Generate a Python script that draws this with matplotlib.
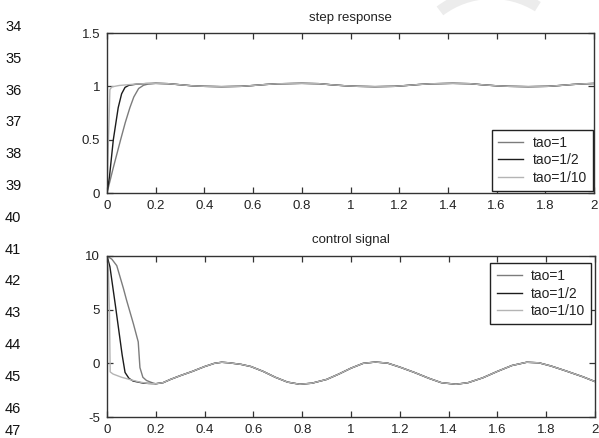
import numpy as np
import matplotlib
matplotlib.use("Agg")
import matplotlib.pyplot as plt
from matplotlib.patches import Wedge

plt.rcParams['font.family'] = ['Liberation Sans', 'DejaVu Sans']

# ---- data -------------------------------------------------------------
labels = ['tao=1', 'tao=1/2', 'tao=1/10']
colors = ['#7c7c7c', '#1c1c1c', '#b4b4b4']

# step response: start-up part of each run
step_t_tao1 = [0, 0.025, 0.056, 0.075, 0.094, 0.11, 0.13, 0.15, 0.17]
step_y_tao1 = [0, 0.23, 0.50, 0.66, 0.80, 0.90, 0.98, 1.01, 1.022]
step_t_tao2 = [0, 0.01, 0.026, 0.046, 0.06, 0.074, 0.09, 0.12, 0.16]
step_y_tao2 = [0, 0.15, 0.50, 0.80, 0.93, 0.99, 1.01, 1.02, 1.026]
step_t_tao10 = [0, 0.006, 0.012, 0.02, 0.05, 0.10, 0.15]
step_y_tao10 = [0, 0.50, 0.97, 0.995, 1.008, 1.018, 1.025]

# step response: common part once the runs coincide
step_t_tail = [0.20, 0.25, 0.30, 0.35, 0.40, 0.47, 0.55, 0.60, 0.65, 0.70,
               0.80, 0.87, 0.92, 0.98, 1.03, 1.10, 1.18, 1.23, 1.28, 1.33,
               1.42, 1.49, 1.54, 1.60, 1.65, 1.73, 1.81, 1.86, 1.91, 1.96, 2.00]
step_y_tail = [1.028, 1.025, 1.015, 1.005, 1.000, 0.997, 1.000, 1.008, 1.017, 1.024,
               1.028, 1.025, 1.015, 1.005, 1.000, 0.997, 1.000, 1.008, 1.017, 1.024,
               1.028, 1.025, 1.015, 1.005, 1.000, 0.997, 1.000, 1.008, 1.017, 1.024, 1.027]

# control signal: start-up part of each run
ctrl_t_tao1 = [0, 0.02, 0.04, 0.067, 0.08, 0.108, 0.128, 0.135, 0.147, 0.162, 0.19]
ctrl_y_tao1 = [10, 9.7, 9.1, 7.0, 5.9, 3.7, 2.0, -0.4, -1.3, -1.6, -1.85]
ctrl_t_tao2 = [0, 0.012, 0.035, 0.062, 0.074, 0.09, 0.107, 0.15]
ctrl_y_tao2 = [10, 9.0, 5.3, 0.8, -0.85, -1.4, -1.65, -1.85]
ctrl_t_tao10 = [0, 0.006, 0.010, 0.013, 0.025, 0.06, 0.10, 0.135, 0.17]
ctrl_y_tao10 = [10, 8.5, 5.0, -0.8, -1.0, -1.3, -1.55, -1.75, -1.88]

# control signal: common part once the runs coincide
ctrl_t_tail = [0.20, 0.23, 0.26, 0.30, 0.35, 0.40, 0.44, 0.47, 0.50, 0.55,
               0.59, 0.64, 0.69, 0.74, 0.79, 0.84, 0.90, 0.95, 1.00, 1.05,
               1.10, 1.15, 1.20, 1.26, 1.32, 1.37, 1.43, 1.48, 1.54, 1.60,
               1.66, 1.72, 1.77, 1.82, 1.88, 1.95, 2.00]
ctrl_y_tail = [-1.90, -1.80, -1.50, -1.15, -0.75, -0.30, 0.00, 0.10, 0.05, -0.10,
               -0.30, -0.75, -1.30, -1.75, -1.95, -1.85, -1.50, -1.00, -0.45, 0.00,
               0.12, 0.02, -0.35, -0.85, -1.40, -1.80, -1.95, -1.80, -1.35, -0.75,
               -0.20, 0.10, 0.05, -0.25, -0.70, -1.25, -1.70]

x_ticks = [0, 0.2, 0.4, 0.6, 0.8, 1, 1.2, 1.4, 1.6, 1.8, 2]
x_ticklabels = ['0', '0.2', '0.4', '0.6', '0.8', '1', '1.2', '1.4', '1.6', '1.8', '2']
step_yticks = [0, 0.5, 1, 1.5]
step_yticklabels = ['0', '0.5', '1', '1.5']
ctrl_yticks = [-5, 0, 5, 10]
ctrl_yticklabels = ['-5', '0', '5', '10']
line_numbers = list(range(34, 48))

# ---- figure -----------------------------------------------------------
W, H, DPI = 599, 438, 100
fig = plt.figure(figsize=(W / DPI, H / DPI), dpi=DPI)
fig.patch.set_facecolor('white')


def px_axes(left, top, right, bottom):
    return fig.add_axes([left / W, 1 - bottom / H, (right - left) / W, (bottom - top) / H])


ax1 = px_axes(107, 33, 594, 193)
ax2 = px_axes(107, 256, 595, 417)

step_runs = [(step_t_tao1, step_y_tao1), (step_t_tao2, step_y_tao2), (step_t_tao10, step_y_tao10)]
ctrl_runs = [(ctrl_t_tao1, ctrl_y_tao1), (ctrl_t_tao2, ctrl_y_tao2), (ctrl_t_tao10, ctrl_y_tao10)]

for (t, y), c, lab in zip(step_runs, colors, labels):
    ax1.plot(list(t) + step_t_tail, list(y) + step_y_tail, color=c, lw=1.0, label=lab)
for (t, y), c, lab in zip(ctrl_runs, colors, labels):
    ax2.plot(list(t) + ctrl_t_tail, list(y) + ctrl_y_tail, color=c, lw=1.0, label=lab)

spine_col = '#333333'
for ax, yt, ytl, ylim, title in [
        (ax1, step_yticks, step_yticklabels, (0, 1.5), 'step response'),
        (ax2, ctrl_yticks, ctrl_yticklabels, (-5, 10), 'control signal')]:
    ax.set_xlim(0, 2)
    ax.set_ylim(*ylim)
    ax.set_xticks(x_ticks)
    ax.set_xticklabels(x_ticklabels)
    ax.set_yticks(yt)
    ax.set_yticklabels(ytl)
    ax.tick_params(direction='in', length=4, width=0.9, color=spine_col,
                   top=True, right=True, labelsize=9.5, labelcolor='#222222', pad=5)
    for s in ax.spines.values():
        s.set_color(spine_col)
        s.set_linewidth(1.0)
    ax.set_title(title, fontsize=9.5, color='#222222', pad=9)

leg_kw = dict(fontsize=10, frameon=True, fancybox=False, framealpha=1,
              edgecolor='#222222', handlelength=1.8, handletextpad=0.65,
              labelspacing=0.25, borderpad=0.45, borderaxespad=0)
l1 = ax1.legend(loc='lower right', bbox_to_anchor=(0.998, 0.012), **leg_kw)
l2 = ax2.legend(loc='upper right', bbox_to_anchor=(0.992, 0.957), **leg_kw)
for lg in (l1, l2):
    lg.get_frame().set_linewidth(1.0)
    for tx in lg.get_texts():
        tx.set_color('#222222')

# document line numbers down the left margin
for i, n in enumerate(line_numbers):
    ypx = min(27 + i * 31.8, 431)
    fig.text(5 / W, 1 - ypx / H, str(n), fontsize=10.5, color='#111111',
             ha='left', va='center')

# faint watermark stroke at the top of the page
wm = Wedge((4.92, 3.58), 0.92, 58, 127, width=0.11, transform=fig.dpi_scale_trans,
           facecolor='#ececec', edgecolor='none', zorder=-5)
fig.patches.append(wm)

fig.savefig('out.png', dpi=DPI, facecolor='white')
